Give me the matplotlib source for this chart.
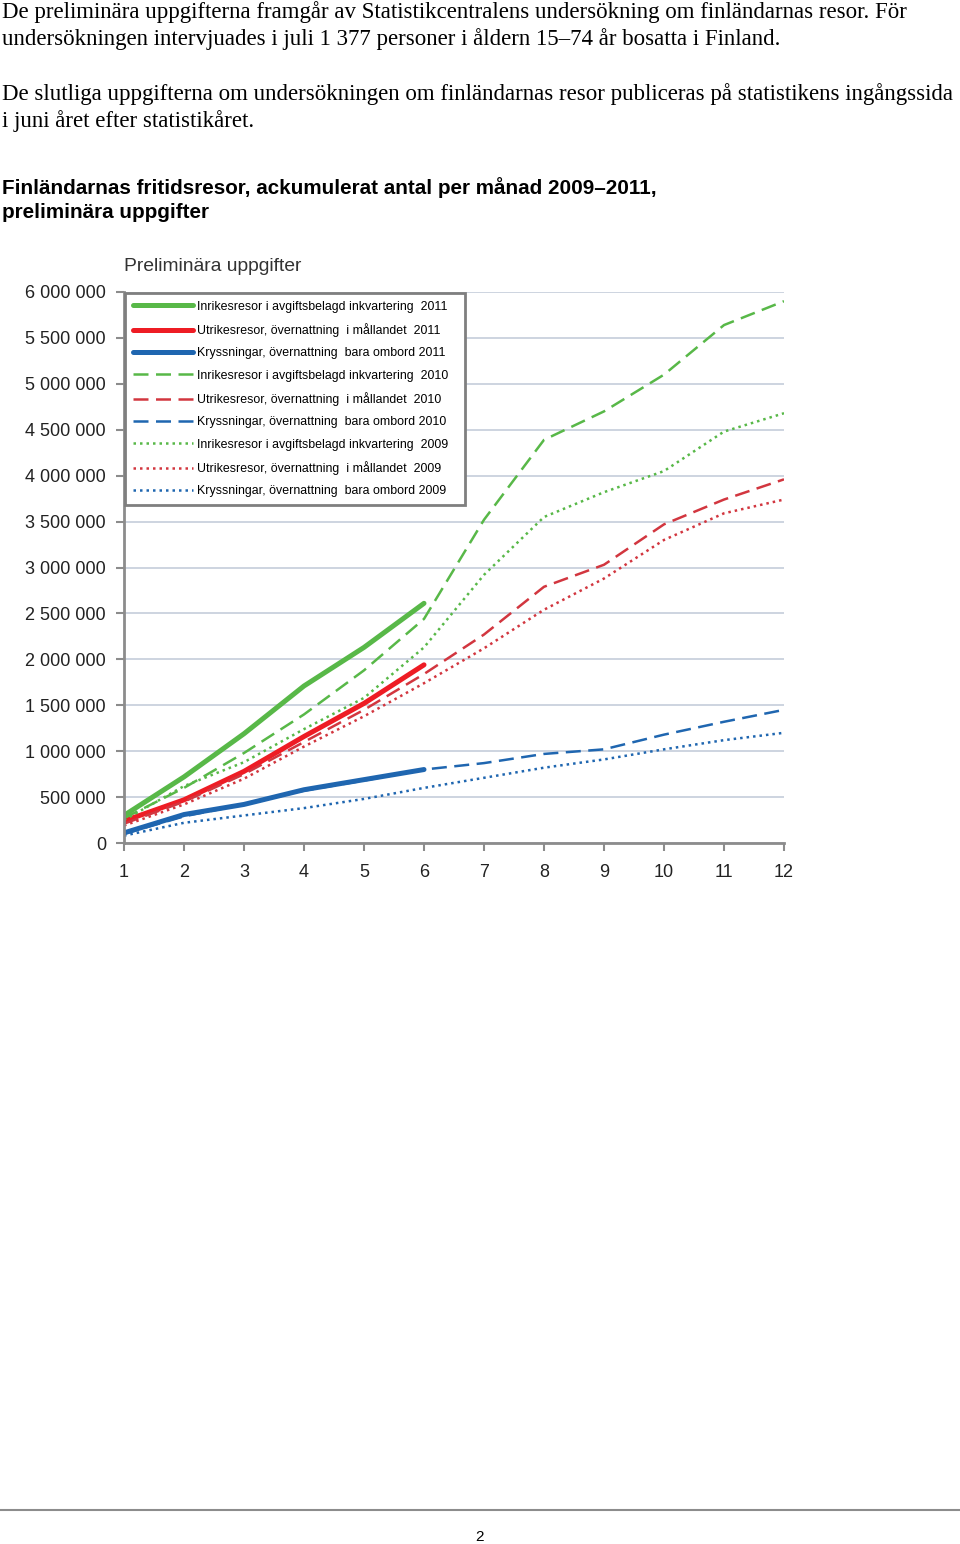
import numpy as np
import matplotlib.pyplot as plt
from matplotlib.ticker import FuncFormatter

# månader och ackumulerade värden (miljoner resor)
months_2011 = [1, 2, 3, 4, 5, 6]
months_full = [1, 2, 3, 4, 5, 6, 7, 8, 9, 10, 11, 12]

inrikes_2011 = [0.30, 0.72, 1.19, 1.71, 2.13, 2.61]
utrikes_2011 = [0.24, 0.47, 0.78, 1.16, 1.52, 1.94]
kryss_2011 = [0.11, 0.31, 0.42, 0.58, 0.69, 0.80]

inrikes_2010 = [0.27, 0.60, 0.98, 1.40, 1.88, 2.44, 3.52, 4.39, 4.70, 5.10, 5.64, 5.90]
utrikes_2010 = [0.21, 0.45, 0.75, 1.10, 1.45, 1.84, 2.27, 2.79, 3.03, 3.47, 3.74, 3.96]
kryss_2010 = [0.10, 0.29, 0.42, 0.57, 0.68, 0.80, 0.87, 0.97, 1.02, 1.18, 1.32, 1.45]

inrikes_2009 = [0.25, 0.62, 0.88, 1.24, 1.58, 2.13, 2.92, 3.55, 3.82, 4.05, 4.48, 4.68]
utrikes_2009 = [0.19, 0.42, 0.70, 1.05, 1.38, 1.74, 2.12, 2.54, 2.88, 3.30, 3.59, 3.74]
kryss_2009 = [0.08, 0.22, 0.30, 0.38, 0.48, 0.60, 0.71, 0.82, 0.91, 1.02, 1.12, 1.20]

y_ticks = [0, 500000, 1000000, 1500000, 2000000, 2500000, 3000000,
           3500000, 4000000, 4500000, 5000000, 5500000, 6000000]

labels = [
    "Inrikesresor i avgiftsbelagd inkvartering  2011",
    "Utrikesresor, övernattning  i mållandet  2011",
    "Kryssningar, övernattning  bara ombord 2011",
    "Inrikesresor i avgiftsbelagd inkvartering  2010",
    "Utrikesresor, övernattning  i mållandet  2010",
    "Kryssningar, övernattning  bara ombord 2010",
    "Inrikesresor i avgiftsbelagd inkvartering  2009",
    "Utrikesresor, övernattning  i mållandet  2009",
    "Kryssningar, övernattning  bara ombord 2009",
]

GREEN = '#58b848'
RED = '#ee1c24'
RED2 = '#d2363f'
BLUE = '#1f66b0'

W, H = 960, 1544
fig = plt.figure(figsize=(W / 100, H / 100), dpi=100)


def px(x, y):
    return x / W, 1 - y / H


serif = ['Liberation Serif', 'DejaVu Serif']
sans = ['Liberation Sans', 'DejaVu Sans']

fig.text(*px(2, 12), "De preliminära uppgifterna framgår av Statistikcentralens undersökning om finländarnas resor. För",
         family=serif, fontsize=16.45, va='center', ha='left')
fig.text(*px(2, 39), "undersökningen intervjuades i juli 1 377 personer i åldern 15–74 år bosatta i Finland.",
         family=serif, fontsize=16.45, va='center', ha='left')
fig.text(*px(2, 94), "De slutliga uppgifterna om undersökningen om finländarnas resor publiceras på statistikens ingångssida",
         family=serif, fontsize=16.45, va='center', ha='left')
fig.text(*px(2, 121), "i juni året efter statistikåret.",
         family=serif, fontsize=16.45, va='center', ha='left')
fig.text(*px(2, 188), "Finländarnas fritidsresor, ackumulerat antal per månad 2009–2011,",
         family=sans, fontsize=14.9, weight='bold', va='center', ha='left')
fig.text(*px(2, 213), "preliminära uppgifter",
         family=sans, fontsize=14.9, weight='bold', va='center', ha='left')

left, right, top, bottom = 124, 784, 292, 843
ax = fig.add_axes([left / W, 1 - bottom / H, (right - left) / W, (bottom - top) / H])

M = 1e6
ax.plot(months_2011, np.array(inrikes_2011) * M, color=GREEN, lw=3.6, solid_capstyle='round')
ax.plot(months_2011, np.array(utrikes_2011) * M, color=RED, lw=3.6, solid_capstyle='round')
ax.plot(months_2011, np.array(kryss_2011) * M, color=BLUE, lw=3.6, solid_capstyle='round')
ax.plot(months_full, np.array(inrikes_2010) * M, color=GREEN, lw=1.8, dashes=(6, 3))
ax.plot(months_full, np.array(utrikes_2010) * M, color=RED2, lw=1.8, dashes=(6, 3))
ax.plot(months_full, np.array(kryss_2010) * M, color=BLUE, lw=1.8, dashes=(6, 3))
ax.plot(months_full, np.array(inrikes_2009) * M, color=GREEN, lw=1.8, dashes=(1, 1.6))
ax.plot(months_full, np.array(utrikes_2009) * M, color=RED2, lw=1.8, dashes=(1, 1.6))
ax.plot(months_full, np.array(kryss_2009) * M, color=BLUE, lw=1.8, dashes=(1, 1.6))

ax.set_xlim(1, 12)
ax.set_ylim(0, 6000000)
ax.set_xticks(months_full)
ax.set_yticks(y_ticks)
ax.yaxis.set_major_formatter(FuncFormatter(lambda v, p: f"{int(v):,}".replace(",", " ")))
ax.grid(axis='y', color='#c9d1dd', lw=1.3)
ax.set_axisbelow(True)
for s in ['top', 'right']:
    ax.spines[s].set_visible(False)
for s in ['left', 'bottom']:
    ax.spines[s].set_color('#8c8c8c')
    ax.spines[s].set_linewidth(2)
ax.tick_params(axis='y', direction='out', length=6, width=1.5, color='#8c8c8c', pad=7,
               labelsize=13, labelcolor='#222222')
ax.tick_params(axis='x', direction='out', length=6, width=1.5, color='#8c8c8c', pad=9,
               labelsize=13, labelcolor='#222222')
for t in ax.get_xticklabels() + ax.get_yticklabels():
    t.set_family(sans)

ax.text(0, 1.03, "Preliminära uppgifter", transform=ax.transAxes, family=sans,
        fontsize=13.9, color='#333333', ha='left', va='bottom')

# legendram: 124..466 px i bredd, 293..502 px i höjd
lw_ax = (466 - 124) / (right - left)
lh_ax = (502 - 293) / (bottom - top)
leg = ax.legend(labels, loc='upper left', bbox_to_anchor=(0, 1 - lh_ax, lw_ax, lh_ax),
                mode='expand', prop={'family': sans, 'size': 8.9},
                handlelength=4.9, handletextpad=0.3, labelspacing=0.84, borderpad=0.6,
                borderaxespad=0.1, fancybox=False, framealpha=1)
leg.get_frame().set_edgecolor('#7f7f7f')
leg.get_frame().set_linewidth(2)

# sidfot
fig.add_artist(plt.Line2D([0, 1], [1 - 1510 / H] * 2, color='#8c8c8c', lw=1.5))
fig.text(*px(480, 1537), "2", family=sans, fontsize=11, ha='center', va='center')

fig.savefig('out.png', dpi=100)
